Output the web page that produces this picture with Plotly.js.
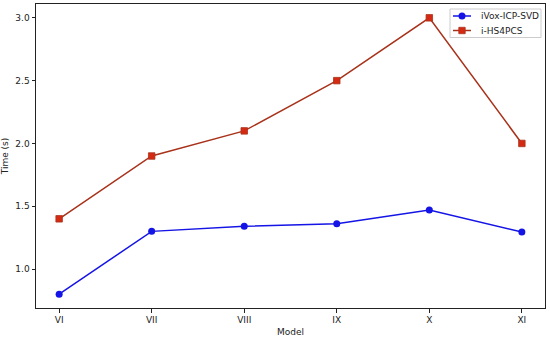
<!DOCTYPE html>
<html><head><meta charset="utf-8">
<script src="https://cdn.plot.ly/plotly-3.0.1.min.js"></script>
<style>html,body{margin:0;padding:0;background:#fff}#c{width:550px;height:337px}</style>
</head><body><div id="c"></div>
<script>
const models = ['VI','VII','VIII','IX','X','XI'];
const ivox = [0.80, 1.30, 1.34, 1.36, 1.47, 1.295];
const hs4pcs = [1.40, 1.90, 2.10, 2.50, 3.00, 2.00];
const yTicks = [1.0, 1.5, 2.0, 2.5, 3.0];
const seriesNames = ['iVox-ICP-SVD', 'i-HS4PCS'];

const blue = '#1414e6', brown = '#a8321a', red = '#d42a14';
const M = {l: 36, r: 5, t: 4, b: 29}, W = 550, H = 337;
const pw = W - M.l - M.r, ph = H - M.t - M.b;
const px = v => (v - M.l) / pw;
const py = v => (H - M.b - v) / ph;

const traces = [
  {x: models, y: ivox, name: seriesNames[0], mode: 'lines+markers', showlegend: false,
   line: {color: blue, width: 1.5}, marker: {symbol: 'circle', size: 7, color: blue}},
  {x: models, y: hs4pcs, name: seriesNames[1], mode: 'lines+markers', showlegend: false,
   line: {color: brown, width: 1.5}, marker: {symbol: 'square', size: 6.5, color: red, line: {color: brown, width: 0.8}}}
];

// custom legend (matplotlib-like compact box)
const rows = [16, 30.5];
const shapes = [
  {type: 'rect', xref: 'paper', yref: 'paper', x0: px(450), x1: px(541), y0: py(9), y1: py(37.5),
   line: {color: '#cccccc', width: 1}, fillcolor: 'rgba(255,255,255,0.85)', layer: 'above'},
  {type: 'line', xref: 'paper', yref: 'paper', x0: px(453), x1: px(471), y0: py(rows[0]), y1: py(rows[0]),
   line: {color: blue, width: 1.5}, layer: 'above'},
  {type: 'circle', xref: 'paper', yref: 'paper', x0: px(458.5), x1: px(465.5), y0: py(rows[0]+3.5), y1: py(rows[0]-3.5),
   line: {width: 0}, fillcolor: blue, layer: 'above'},
  {type: 'line', xref: 'paper', yref: 'paper', x0: px(453), x1: px(471), y0: py(rows[1]), y1: py(rows[1]),
   line: {color: brown, width: 1.5}, layer: 'above'},
  {type: 'rect', xref: 'paper', yref: 'paper', x0: px(458.8), x1: px(465.2), y0: py(rows[1]+3.2), y1: py(rows[1]-3.2),
   line: {color: brown, width: 0.8}, fillcolor: red, layer: 'above'}
];
const annotations = seriesNames.map((n, i) => ({
  xref: 'paper', yref: 'paper', x: px(479), y: py(rows[i]), xanchor: 'left', yanchor: 'middle',
  text: n, showarrow: false, font: {family: 'DejaVu Sans', size: 9, color: '#222'}
}));

const layout = {
  width: W, height: H, margin: M,
  paper_bgcolor: '#fff', plot_bgcolor: '#fff',
  font: {family: 'DejaVu Sans', size: 9, color: '#222'},
  showlegend: false, shapes, annotations,
  xaxis: {type: 'category', range: [-0.25, 5.25], showgrid: false, zeroline: false,
    showline: true, mirror: true, linecolor: '#222', linewidth: 1,
    ticks: 'outside', ticklen: 3.5, tickcolor: '#222', tickfont: {size: 9},
    title: {text: 'Model', font: {size: 9}, standoff: 4}},
  yaxis: {range: [0.69, 3.11], tickvals: yTicks, ticktext: yTicks.map(v => v.toFixed(1)),
    showgrid: false, zeroline: false, showline: true, mirror: true, linecolor: '#222', linewidth: 1,
    ticks: 'outside', ticklen: 3.5, tickcolor: '#222', tickfont: {size: 9},
    title: {text: 'Time (s)', font: {size: 9}, standoff: 6}}
};
Plotly.newPlot('c', traces, layout, {displayModeBar: false, staticPlot: true});
</script></body></html>
